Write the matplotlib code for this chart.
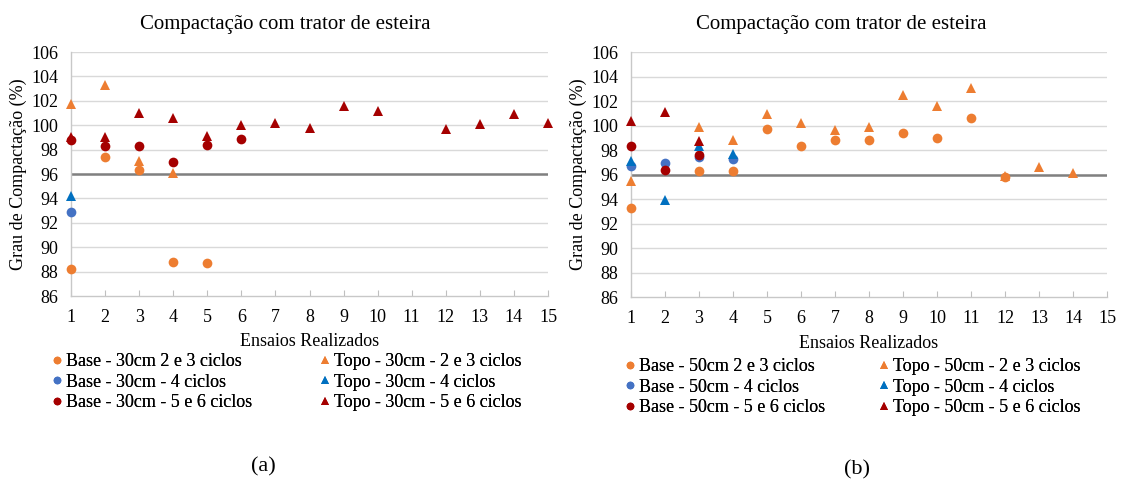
import matplotlib
matplotlib.use("Agg")
import matplotlib.pyplot as plt
from matplotlib.lines import Line2D

plt.rcParams['font.family'] = ['Liberation Serif', 'DejaVu Serif']

# ---- Data: (a) 30 cm layers ----
a_base_23_x = [1, 2, 3, 4, 5]
a_base_23_y = [88.2, 97.4, 96.3, 88.8, 88.7]
a_topo_23_x = [1, 2, 3, 4]
a_topo_23_y = [101.7, 103.3, 97.1, 96.1]
a_base_4_x = [1]
a_base_4_y = [92.9]
a_topo_4_x = [1]
a_topo_4_y = [94.2]
a_base_56_x = [1, 2, 3, 4, 5, 6]
a_base_56_y = [98.8, 98.3, 98.3, 97.0, 98.4, 98.9]
a_topo_56_x = [1, 2, 3, 4, 5, 6, 7, 8, 9, 10, 12, 13, 14, 15]
a_topo_56_y = [99.0, 99.0, 101.0, 100.6, 99.1, 100.0, 100.2, 99.8, 101.6,
               101.2, 99.7, 100.1, 100.9, 100.2]

# ---- Data: (b) 50 cm layers ----
b_base_23_x = [1, 3, 4, 5, 6, 7, 8, 9, 10, 11, 12]
b_base_23_y = [93.3, 96.3, 96.3, 99.7, 98.3, 98.8, 98.8, 99.4, 99.0, 100.6, 95.8]
b_topo_23_x = [1, 3, 4, 5, 6, 7, 8, 9, 10, 11, 12, 13, 14]
b_topo_23_y = [95.5, 99.9, 98.8, 100.9, 100.2, 99.6, 99.9, 102.5, 101.6,
               103.1, 95.9, 96.6, 96.1]
b_base_4_x = [1, 2, 3, 4]
b_base_4_y = [96.7, 96.9, 97.4, 97.3]
b_topo_4_x = [1, 2, 3, 4]
b_topo_4_y = [97.1, 93.9, 98.3, 97.7]
b_base_56_x = [1, 2, 3]
b_base_56_y = [98.3, 96.4, 97.6]
b_topo_56_x = [1, 2, 3]
b_topo_56_y = [100.4, 101.1, 98.7]

reference_level = 96
x_ticks = list(range(1, 16))
y_ticks = list(range(86, 107, 2))

ORANGE = '#ED7D31'
BLUE_C = '#4472C4'
BLUE_T = '#0070C0'
DARKRED = '#A50000'

title = 'Compactação com trator de esteira'
ylabel = 'Grau de Compactação (%)'
xlabel = 'Ensaios Realizados'

W, H = 1121.0, 490.0
fig = plt.figure(figsize=(W / 100, H / 100), dpi=100)


def draw_panel(ax, series, labels):
    ax.set_xlim(1, 15)
    ax.set_ylim(86, 106)
    ax.set_xticks(x_ticks)
    ax.set_yticks(y_ticks)
    ax.tick_params(axis='x', direction='in', length=4, color='#bfbfbf',
                   labelsize=13, pad=9)
    ax.tick_params(axis='y', length=0, labelsize=13, pad=9)
    for s in ['top', 'right']:
        ax.spines[s].set_visible(False)
    for s in ['left', 'bottom']:
        ax.spines[s].set_color('#c8c8c8')
        ax.spines[s].set_linewidth(1.0)
    for yv in y_ticks[1:]:
        ax.axhline(yv, color='#d9d9d9', lw=1.0, zorder=0)
    ax.axhline(reference_level, color='#808080', lw=1.8, zorder=1)

    handles = []
    for (xs, ys, color, marker, ms), lab in zip(series, labels):
        ax.plot(xs, ys, linestyle='none', marker=marker, color=color,
                markersize=ms, markeredgewidth=0, clip_on=False, zorder=3)
        handles.append(Line2D([], [], linestyle='none', marker=marker,
                              color=color, markersize=5.5, markeredgewidth=0,
                              label=lab))
    return handles


def add_legend_column(handles, marker_x, row1_y):
    leg = fig.legend(handles=handles, loc='upper left',
                     bbox_to_anchor=((marker_x - 5.4) / W, 1 - (row1_y - 10) / H),
                     frameon=False, fontsize=13, handlelength=0.6,
                     handletextpad=0.2, labelspacing=0.2, borderpad=0,
                     borderaxespad=0)
    fig.add_artist(leg)


CIRC = 7.0
TRI = 7.5

# Panel (a)
ax1 = fig.add_axes([71 / W, 1 - 296 / H, 477 / W, 244 / H])
series_a = [
    (a_base_23_x, a_base_23_y, ORANGE, 'o', CIRC),
    (a_base_4_x, a_base_4_y, BLUE_C, 'o', CIRC),
    (a_base_56_x, a_base_56_y, DARKRED, 'o', CIRC),
    (a_topo_23_x, a_topo_23_y, ORANGE, '^', TRI),
    (a_topo_4_x, a_topo_4_y, BLUE_T, '^', TRI),
    (a_topo_56_x, a_topo_56_y, DARKRED, '^', TRI),
]
labels_a = ['Base - 30cm 2 e 3 ciclos', 'Base - 30cm - 4 ciclos',
            'Base - 30cm - 5 e 6 ciclos', 'Topo - 30cm - 2 e 3 ciclos',
            'Topo - 30cm - 4 ciclos', 'Topo - 30cm - 5 e 6 ciclos']
h_a = draw_panel(ax1, series_a, labels_a)

# Panel (b)
ax2 = fig.add_axes([631 / W, 1 - 297 / H, 476 / W, 245 / H])
series_b = [
    (b_base_23_x, b_base_23_y, ORANGE, 'o', CIRC),
    (b_base_4_x, b_base_4_y, BLUE_C, 'o', CIRC),
    (b_base_56_x, b_base_56_y, DARKRED, 'o', CIRC),
    (b_topo_23_x, b_topo_23_y, ORANGE, '^', TRI),
    (b_topo_4_x, b_topo_4_y, BLUE_T, '^', TRI),
    (b_topo_56_x, b_topo_56_y, DARKRED, '^', TRI),
]
labels_b = ['Base - 50cm 2 e 3 ciclos', 'Base - 50cm - 4 ciclos',
            'Base - 50cm - 5 e 6 ciclos', 'Topo - 50cm - 2 e 3 ciclos',
            'Topo - 50cm - 4 ciclos', 'Topo - 50cm - 5 e 6 ciclos']
h_b = draw_panel(ax2, series_b, labels_b)

# Titles, axis labels
fig.text(285 / W, 1 - 24 / H, title, ha='center', va='center', fontsize=15)
fig.text(841 / W, 1 - 24 / H, title, ha='center', va='center', fontsize=15)
fig.text(18 / W, 1 - 174 / H, ylabel, rotation=90, ha='center', va='center',
         fontsize=13)
fig.text(578 / W, 1 - 174 / H, ylabel, rotation=90, ha='center', va='center',
         fontsize=13)
fig.text(310 / W, 1 - 341 / H, xlabel, ha='center', va='center', fontsize=13)
fig.text(869 / W, 1 - 343 / H, xlabel, ha='center', va='center', fontsize=13)

# Legends: two columns per panel (Base / Topo)
add_legend_column(h_a[:3], 57, 363)
add_legend_column(h_a[3:], 325, 363)
add_legend_column(h_b[:3], 630, 368)
add_legend_column(h_b[3:], 884, 368)

# Panel captions
fig.text(263 / W, 1 - 467 / H, '(a)', ha='center', va='center', fontsize=16)
fig.text(857 / W, 1 - 470 / H, '(b)', ha='center', va='center', fontsize=16)

fig.savefig('out.png', dpi=100, facecolor='white')
